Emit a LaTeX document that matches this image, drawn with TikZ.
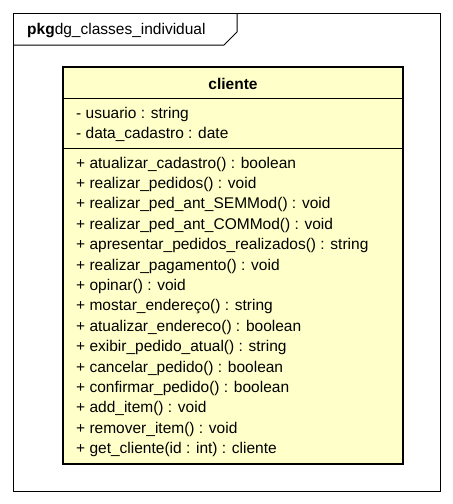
\documentclass[tikz,border=0pt]{standalone}
\usepackage{fontspec}
\setmainfont{Liberation Sans}
\begin{document}
\begin{tikzpicture}[x=1pt,y=-1pt,
  frameline/.style={draw=black,line width=1pt},
  member/.style={anchor=west,inner sep=0pt,font=\fontsize{15.5}{17}\selectfont},
  classbox/.style={draw=black,line width=2.6pt,fill=classfill}]
\definecolor{classfill}{HTML}{FFFFCA}
\useasboundingbox (0,0) rectangle (453,504);
\fill[white] (0,0) rectangle (453,504);
% package frame
\draw[frameline] (13,13) rectangle (440,491);
\draw[frameline] (13,45) -- (224,45) -- (237,32) -- (237,13);
\node[member,anchor=west] (pkg) at (27,31) {\textbf{pkg}dg\_classes\_individual};
% class
\draw[classbox] (63,67) rectangle (403,464);
\draw[line width=0.8pt] (64.3,98) -- (401.7,98);
\draw[line width=0.8pt] (64.3,148) -- (401.7,148);
\node[member,anchor=center,font=\fontsize{15.5}{17}\selectfont\bfseries] (cname) at (233,84) {cliente};
\node[member] (a1) at (76,114) {- usuario : string};
\node[member] (a2) at (76,134) {- data\_cadastro : date};
\foreach \t [count=\i from 0] in {%
  {+ atualizar\_cadastro() : boolean},
  {+ realizar\_pedidos() : void},
  {+ realizar\_ped\_ant\_SEMMod() : void},
  {+ realizar\_ped\_ant\_COMMod() : void},
  {+ apresentar\_pedidos\_realizados() : string},
  {+ realizar\_pagamento() : void},
  {+ opinar() : void},
  {+ mostar\_endereço() : string},
  {+ atualizar\_endereco() : boolean},
  {+ exibir\_pedido\_atual() : string},
  {+ cancelar\_pedido() : boolean},
  {+ confirmar\_pedido() : boolean},
  {+ add\_item() : void},
  {+ remover\_item() : void},
  {+ get\_cliente(id : int) : cliente}} {
  \node[member] (m\i) at (76,{164+20.4*\i}) {\t};
}
\end{tikzpicture}
\end{document}
